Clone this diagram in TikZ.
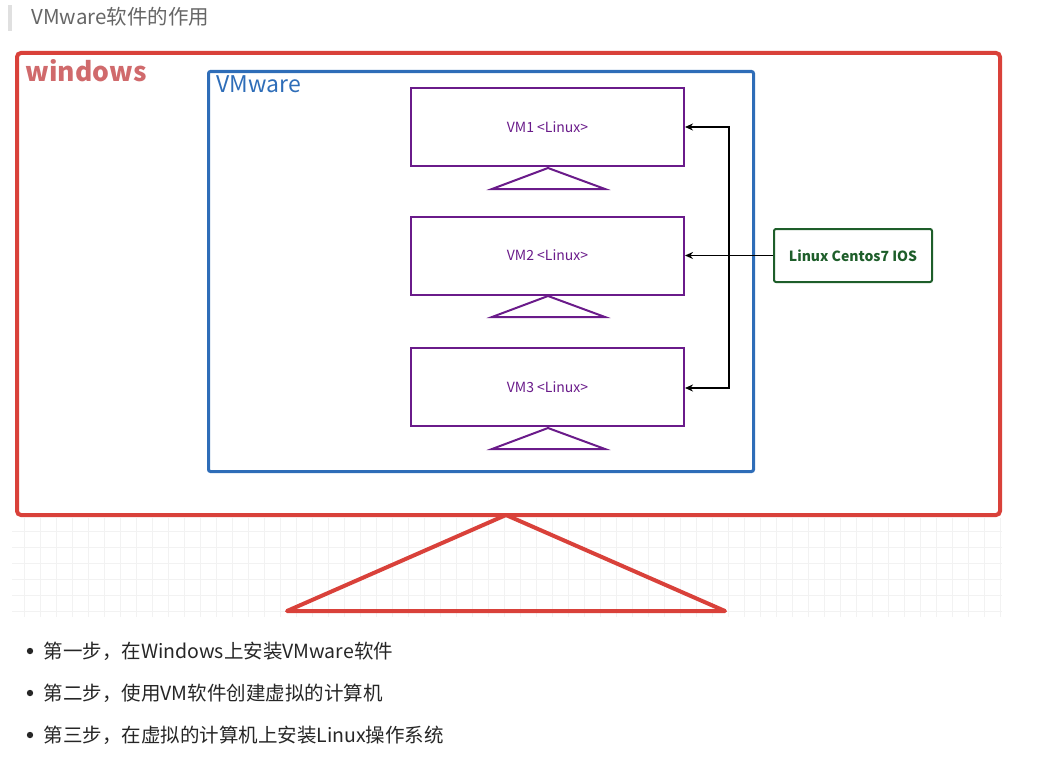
\documentclass[tikz,border=0pt]{standalone}
\usepackage{fontspec}
\setmainfont{Noto Sans CJK SC}
\usetikzlibrary{arrows.meta}
\definecolor{winred}{HTML}{D9413A}
\definecolor{wintxt}{HTML}{D06A6C}
\definecolor{vmblue}{HTML}{2E6DB8}
\definecolor{vmpur}{HTML}{6A1B8A}
\definecolor{isogreen}{HTML}{1E5E2A}
\tikzset{
 vm/.style={draw=vmpur,line width=2pt,minimum width=273pt,minimum height=78pt,inner sep=0pt,font=\fontsize{14}{16}\selectfont,text=vmpur},
 tri/.style={draw=vmpur,line width=2pt},
 arr/.style={line width=1.5pt,-{Stealth[length=8pt,width=7pt]}},
 bul/.style={anchor=west,font=\fontsize{19.5}{23}\selectfont,text=black!85}
}
\begin{document}
\begin{tikzpicture}[x=1pt,y=-1pt]
\useasboundingbox (0,0) rectangle (1041,760);
\fill[black!12] (8,5) rectangle (12,31);
\node[anchor=west,text=black!60,font=\fontsize{20.5}{24}\selectfont] (title) at (28,17) {VMware软件的作用};
% grid
\foreach \x in {24,40,...,1000} \draw[black!5,line width=0.5pt] (\x,518) -- (\x,617);
\foreach \y in {531,547,...,617} \draw[black!5,line width=0.5pt] (12,\y) -- (1002,\y);
\node[draw=winred,line width=4pt,rounded corners=4pt,minimum width=983pt,minimum height=462pt,anchor=north west] (win) at (15,51) {};
\node[anchor=west,text=wintxt,font=\fontsize{26.5}{30}\selectfont\bfseries] (wint) at (22,71) {windows};
\node[draw=vmblue,line width=3pt,rounded corners=2pt,minimum width=545pt,minimum height=400pt,anchor=north west] (vmw) at (207,70) {};
\node[anchor=west,text=vmblue,font=\fontsize{23}{26}\selectfont] (vmwt) at (213,84) {VMware};
\node[vm] (vm1) at (547.5,127) {VM1 <Linux>};
\node[vm] (vm2) at (547.5,255.5) {VM2 <Linux>};
\node[vm] (vm3) at (547.5,387) {VM3 <Linux>};
\foreach \t in {168,296,428} \draw[tri] (548,\t) -- (605,\t+21) -- (492,\t+21) -- cycle;
\node[draw=isogreen,line width=2pt,rounded corners=2pt,minimum width=158pt,minimum height=53pt,text=isogreen,font=\fontsize{14}{16}\selectfont\bfseries] (iso) at (853,255.5) {Linux Centos7 IOS};
\coordinate (j1) at (729,127);
\coordinate (j3) at (729,388);
\draw[arr] (iso.west) -- (vm2.east);
\draw[arr] (729,255.5) -- (j1) -- (vm1.east);
\draw[arr] (729,255.5) -- (j3) -- (vm3.east|-j3);
\draw[winred,line width=4pt,line join=round] (506,515) -- (725,611) -- (287,611) -- cycle;
\foreach \y/\t in {651/第一步，在Windows上安装VMware软件,693/第二步，使用VM软件创建虚拟的计算机,735/第三步，在虚拟的计算机上安装Linux操作系统}{
 \fill[black!85] (30,\y) circle (3.2pt);
 \node[bul] at (40,\y) {\t};
}
\end{tikzpicture}
\end{document}
